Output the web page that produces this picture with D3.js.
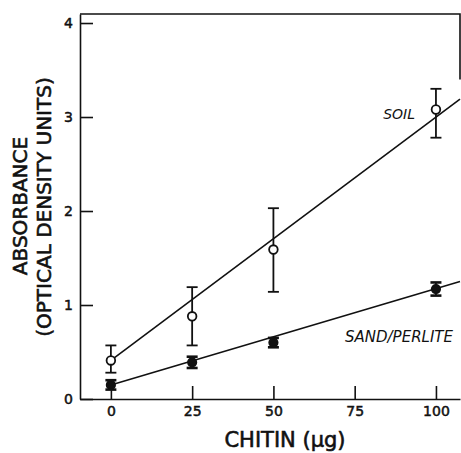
<!DOCTYPE html>
<html>
<head>
<meta charset="utf-8">
<script src="https://cdn.jsdelivr.net/npm/d3@7"></script>
<style>
  body { margin: 0; background: #fff; }
  text { font-family: "DejaVu Sans", sans-serif; fill: #111; }
</style>
</head>
<body>
<div id="chart"></div>
<script>
// chitin amounts (x) and absorbance
var chitin = [0, 25, 50, 100];
var soilMean = [0.41, 0.88, 1.59, 3.08];
var soilLow = [0.28, 0.57, 1.14, 2.78];
var soilHigh = [0.57, 1.19, 2.03, 3.30];
var sandMean = [0.15, 0.39, 0.60, 1.17];
var sandLow = [0.10, 0.33, 0.55, 1.10];
var sandHigh = [0.20, 0.45, 0.65, 1.24];
// fitted lines, as end points [chitin, absorbance]
var soilFit = [[0, 0.41], [107.4, 3.19]];
var sandFit = [[0, 0.15], [107.4, 1.25]];
var xTicks = [0, 25, 50, 75, 100];
var yTicks = [0, 1, 2, 3, 4];

var width = 461, height = 453;

var svg = d3.select("#chart")
  .append("svg")
  .attr("width", width)
  .attr("height", height);

var x = d3.scaleLinear().domain([-9.5, 107.4]).range([80, 460]);
var y = d3.scaleLinear().domain([0, 4.096]).range([399, 14]);

/** axes, ticks point inward */
var xAxis = d3.axisBottom(x).tickValues(xTicks).tickFormat(d3.format("d"))
  .tickSizeInner(-13).tickSizeOuter(0).tickPadding(7);
var yAxis = d3.axisLeft(y).tickValues(yTicks).tickFormat(d3.format("d"))
  .tickSizeInner(-13).tickSizeOuter(0).tickPadding(7);

var gx = svg.append("g").attr("transform", "translate(0,399)").call(xAxis);
var gy = svg.append("g").attr("transform", "translate(80,0)").call(yAxis);

[gx, gy].forEach(function(g){
  g.selectAll("path, line").attr("stroke", "#111").attr("stroke-width", 1.6);
  g.selectAll("text")
    .style("font-family", "DejaVu Sans, sans-serif")
    .style("font-size", "14px")
    .attr("fill", "#111")
    .attr("stroke", "#111")
    .attr("stroke-width", 0.5);
});

/** frame: top border and the short piece of right border */
svg.append("path")
  .attr("d", d3.line()([[x.range()[0], y.range()[1]], [x.range()[1], y.range()[1]], [x.range()[1], y(3.4)]]))
  .attr("fill", "none")
  .attr("stroke", "#111")
  .attr("stroke-width", 1.6);

/** fitted lines */
var line = d3.line().x(function(d){ return x(d[0]); }).y(function(d){ return y(d[1]); });
[soilFit, sandFit].forEach(function(f){
  svg.append("path")
    .attr("d", line(f))
    .attr("fill", "none")
    .attr("stroke", "#111")
    .attr("stroke-width", 1.6);
});

/** error bars and markers */
function drawSeries(mean, low, high, filled, capW)
{
  var g = svg.append("g");
  chitin.forEach(function(c, i){
    var cx = x(c);
    g.append("line").attr("x1", cx).attr("x2", cx).attr("y1", y(low[i])).attr("y2", y(high[i]))
      .attr("stroke", "#111").attr("stroke-width", 1.8);
    [low[i], high[i]].forEach(function(v){
      g.append("line").attr("x1", cx - capW).attr("x2", cx + capW).attr("y1", y(v)).attr("y2", y(v))
        .attr("stroke", "#111").attr("stroke-width", filled ? 2.6 : 1.8);
    });
    g.append("circle")
      .attr("cx", cx)
      .attr("cy", y(mean[i]))
      .attr("r", filled ? 4.2 : 4.3)
      .attr("fill", filled ? "#111" : "#fff")
      .attr("stroke", "#111")
      .attr("stroke-width", 1.8);
  });
}
drawSeries(soilMean, soilLow, soilHigh, false, 5.5);
drawSeries(sandMean, sandLow, sandHigh, true, 5.5);

/** series labels */
svg.append("text")
  .attr("x", 415)
  .attr("y", 119)
  .attr("text-anchor", "end")
  .style("font-size", "14px")
  .style("font-style", "italic")
  .text("SOIL");

svg.append("text")
  .attr("x", 453)
  .attr("y", 342)
  .attr("text-anchor", "end")
  .style("font-size", "15px")
  .style("font-style", "italic")
  .text("SAND/PERLITE");

/** axis titles */
function title(sel)
{
  return sel.attr("text-anchor", "middle")
    .style("font-size", "20px")
    .attr("stroke", "#111")
    .attr("stroke-width", 0.6);
}

svg.append("text")
  .attr("transform", "translate(27,206) rotate(-90)")
  .call(title)
  .text("ABSORBANCE");

svg.append("text")
  .attr("transform", "translate(51,207) rotate(-90)")
  .call(title)
  .text("(OPTICAL DENSITY UNITS)");

svg.append("text")
  .attr("x", 285)
  .attr("y", 447)
  .call(title)
  .style("font-size", "21px")
  .text("CHITIN (µg)");
</script>
</body>
</html>
